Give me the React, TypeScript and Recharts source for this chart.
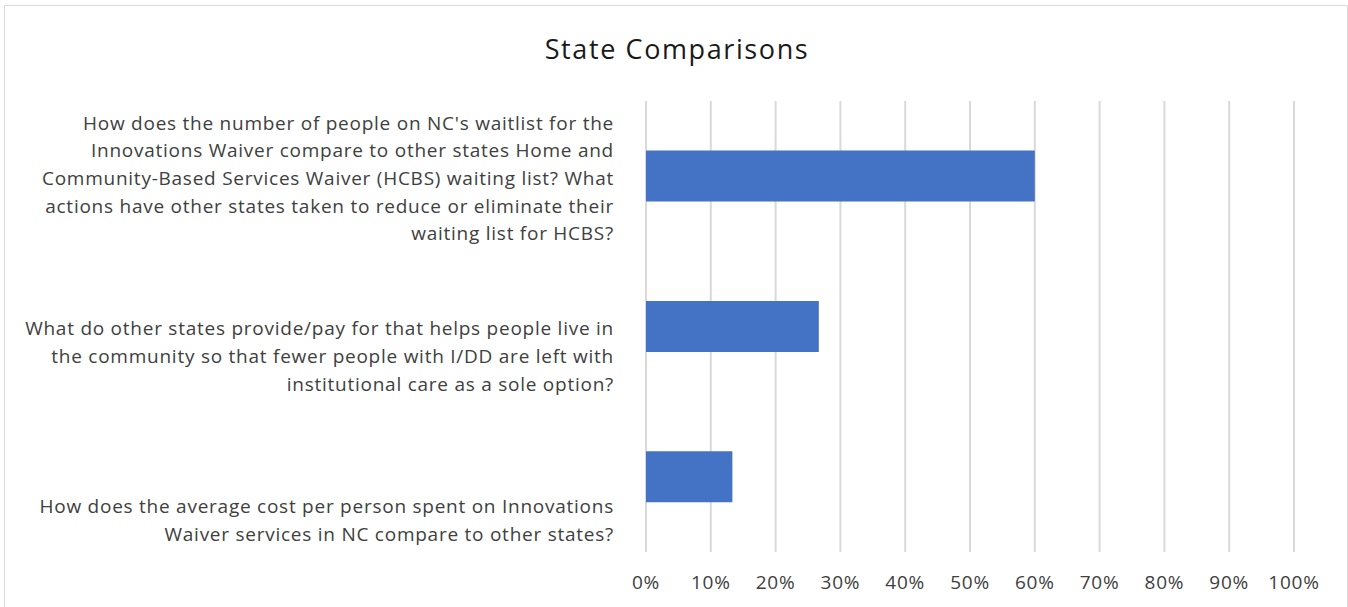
import React from 'react';
import { BarChart, Bar, XAxis, YAxis, CartesianGrid } from 'recharts';

// survey questions, lines split the way the original chart wraps them
const questions = [
  "How does the number of people on NC's waitlist for the\nInnovations Waiver compare to other states Home and\nCommunity-Based Services Waiver (HCBS) waiting list? What\nactions have other states taken to reduce or eliminate their\nwaiting list for HCBS?",
  'What do other states provide/pay for that helps people live in\nthe community so that fewer people with I/DD are left with\ninstitutional care as a sole option?',
  'How does the average cost per person spent on Innovations\nWaiver services in NC compare to other states?',
];
const shares = [60, 26.67, 13.33];
const pctTicks = [0, 10, 20, 30, 40, 50, 60, 70, 80, 90, 100];

const FONT = '"Open Sans", "Noto Sans", sans-serif';
const TEXT = '#404040';

const data = questions.map((q, i) => ({ question: q, share: shares[i] }));

function QuestionTick(props: any) {
  const { x, y, payload } = props;
  const lines: string[] = String(payload.value).split('\n');
  const lh = 27.6;
  const lastBase = y + 64;
  const firstBase = lastBase - (lines.length - 1) * lh;
  return (
    <text
      x={x}
      y={firstBase}
      textAnchor="end"
      fill={TEXT}
      fontSize={19}
      fontFamily={FONT}
      letterSpacing={0.75}
    >
      {lines.map((l, i) => (
        <tspan key={i} x={x} y={firstBase + i * lh}>
          {l}
        </tspan>
      ))}
    </text>
  );
}

export default function App() {
  return (
    <div style={{ position: 'absolute', left: 0, top: 0, width: 1348, height: 607, background: '#fff', overflow: 'hidden' }}>
      <div
        style={{
          position: 'absolute',
          left: 4,
          top: 5,
          width: 1342,
          height: 640,
          border: '1px solid #d9d9d9',
        }}
      />
      <div
        style={{
          position: 'absolute',
          left: 0,
          top: 30,
          width: 1354,
          textAlign: 'center',
          fontFamily: FONT,
          fontSize: 27,
          letterSpacing: 1.6,
          color: '#1a1a1a',
        }}
      >
        State Comparisons
      </div>
      <div style={{ position: 'absolute', left: 0, top: 0 }}>
        <BarChart
          width={1348}
          height={607}
          data={data}
          layout="vertical"
          margin={{ top: 101, right: 54, left: 0, bottom: 15 }}
          barCategoryGap="33%"
        >
          <CartesianGrid horizontal={false} stroke="#d9d9d9" strokeWidth={2} />
          <XAxis
            type="number"
            domain={[0, 100]}
            ticks={pctTicks}
            tickFormatter={(v: number) => `${v}%`}
            axisLine={false}
            tickLine={false}
            tickMargin={18}
            height={40}
            tick={{ fill: TEXT, fontSize: 19, fontFamily: FONT, letterSpacing: 0.75 }}
          />
          <YAxis
            type="category"
            dataKey="question"
            width={646}
            axisLine={false}
            tickLine={false}
            tickMargin={26}
            tick={<QuestionTick />}
          />
          <Bar dataKey="share" fill="#4472c4" isAnimationActive={false} />
        </BarChart>
      </div>
    </div>
  );
}
